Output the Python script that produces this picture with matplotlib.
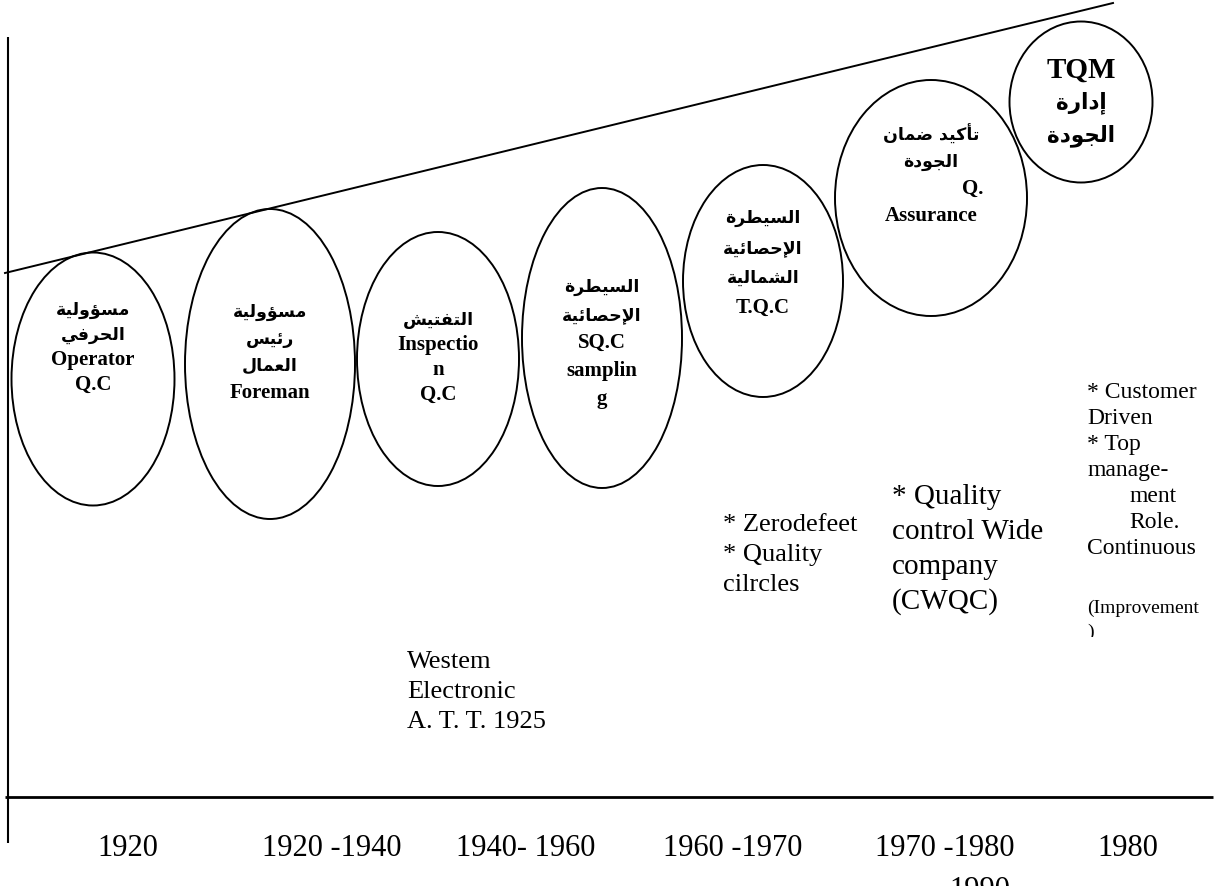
import matplotlib
matplotlib.use('Agg')
import matplotlib.pyplot as plt
from matplotlib.patches import Ellipse
from matplotlib.transforms import Bbox

# --- dane: etapy rozwoju jakości (współrzędne w pikselach rysunku) ---
stage_x = [93, 270, 438, 602, 763, 931, 1081]
stage_y = [379, 364, 359, 338, 281, 198, 102]
stage_w = [163, 170, 162, 160, 160, 192, 143]
stage_h = [253, 310, 254, 300, 232, 236, 161]

stage_text = [
    ['مسؤولية', 'الحرفي', 'Operator', 'Q.C'],
    ['مسؤولية', 'رئيس', 'العمال', 'Foreman'],
    ['التفتيش', 'Inspectio', 'n', 'Q.C'],
    ['السيطرة', 'الإحصائية', 'SQ.C', 'samplin', 'g'],
    ['السيطرة', 'الإحصائية', 'الشمالية', 'T.Q.C'],
    ['تأكيد ضمان', 'الجودة', 'Q.', 'Assurance'],
    ['TQM', 'إدارة', 'الجودة'],
]
stage_text_top = [310, 312, 320, 287, 218, 135, 70]
stage_text_step = [25, 27, 25, 28, 30, 27, 33]

periods = ['1920', '1920 -1940', '1940- 1960', '1960 -1970', '1970 -1980', '1980']
period_x = [128, 332, 526, 733, 945, 1128]

# linie osi i linia trendu
trend_x = [5, 1113]
trend_y = [273, 3]
vaxis_x = [8, 8]
vaxis_y = [37, 843]
haxis_x = [5, 1213]
haxis_y = [797, 797]

notes_western = ['Westem', 'Electronic', 'A. T. T. 1925']
notes_zero = ['* Zerodefeet', '* Quality', 'cilrcles']
notes_cwqc = ['* Quality', 'control Wide', 'company', '(CWQC)']
notes_tqm = ['* Customer', 'Driven', '* Top', 'manage-', 'ment', 'Role.', 'Continuous']
notes_tqm_x = [1087, 1087, 1087, 1087, 1129, 1129, 1087]


# --- proste kształtowanie arabskiego (matplotlib nie robi tego sam) ---
FORMS = {
    'ا': ('\uFE8D', '\uFE8E', None, None),
    'أ': ('\uFE83', '\uFE84', None, None),
    'إ': ('\uFE87', '\uFE88', None, None),
    'آ': ('\uFE81', '\uFE82', None, None),
    'ؤ': ('\uFE85', '\uFE86', None, None),
    'ئ': ('\uFE89', '\uFE8A', '\uFE8B', '\uFE8C'),
    'ب': ('\uFE8F', '\uFE90', '\uFE91', '\uFE92'),
    'ة': ('\uFE93', '\uFE94', None, None),
    'ت': ('\uFE95', '\uFE96', '\uFE97', '\uFE98'),
    'ج': ('\uFE9D', '\uFE9E', '\uFE9F', '\uFEA0'),
    'ح': ('\uFEA1', '\uFEA2', '\uFEA3', '\uFEA4'),
    'د': ('\uFEA9', '\uFEAA', None, None),
    'ر': ('\uFEAD', '\uFEAE', None, None),
    'س': ('\uFEB1', '\uFEB2', '\uFEB3', '\uFEB4'),
    'ش': ('\uFEB5', '\uFEB6', '\uFEB7', '\uFEB8'),
    'ص': ('\uFEB9', '\uFEBA', '\uFEBB', '\uFEBC'),
    'ض': ('\uFEBD', '\uFEBE', '\uFEBF', '\uFEC0'),
    'ط': ('\uFEC1', '\uFEC2', '\uFEC3', '\uFEC4'),
    'ع': ('\uFEC9', '\uFECA', '\uFECB', '\uFECC'),
    'ف': ('\uFED1', '\uFED2', '\uFED3', '\uFED4'),
    'ك': ('\uFED9', '\uFEDA', '\uFEDB', '\uFEDC'),
    'ل': ('\uFEDD', '\uFEDE', '\uFEDF', '\uFEE0'),
    'م': ('\uFEE1', '\uFEE2', '\uFEE3', '\uFEE4'),
    'ن': ('\uFEE5', '\uFEE6', '\uFEE7', '\uFEE8'),
    'و': ('\uFEED', '\uFEEE', None, None),
    'ي': ('\uFEF1', '\uFEF2', '\uFEF3', '\uFEF4'),
}
LAM_ALEF = {'ا': ('\uFEFB', '\uFEFC'), 'أ': ('\uFEF7', '\uFEF8'),
            'إ': ('\uFEF9', '\uFEFA'), 'آ': ('\uFEF5', '\uFEF6')}
DUAL = set('ئبتثجحخسشصضطظعغفقكلمنهي')


def is_arabic(s):
    return any('\u0600' <= c <= '\u06FF' for c in s)


def shape(text):
    out = []
    i = 0
    while i < len(text):
        c = text[i]
        prev = text[i - 1] if i > 0 else ''
        nxt = text[i + 1] if i + 1 < len(text) else ''
        if c not in FORMS:
            out.append(c)
            i += 1
            continue
        join_prev = prev in DUAL
        if c == 'ل' and nxt in LAM_ALEF:
            out.append(LAM_ALEF[nxt][1 if join_prev else 0])
            i += 2
            continue
        join_next = c in DUAL and nxt in FORMS
        iso, fin, ini, med = FORMS[c]
        if join_prev and join_next:
            out.append(med)
        elif join_prev:
            out.append(fin)
        elif join_next:
            out.append(ini)
        else:
            out.append(iso)
        i += 1
    return ''.join(reversed(out))


SERIF = ['Liberation Serif', 'DejaVu Serif']
ARABIC = ['DejaVu Sans']

fig = plt.figure(figsize=(12.15, 8.86), dpi=100)
ax = fig.add_axes([0, 0, 1, 1])
ax.set_xlim(0, 1215)
ax.set_ylim(886, 0)
ax.axis('off')

ax.plot(vaxis_x, vaxis_y, color='black', lw=1.5, solid_capstyle='butt')
ax.plot(haxis_x, haxis_y, color='black', lw=2.0, solid_capstyle='butt')
ax.plot(trend_x, trend_y, color='black', lw=1.4)

for k in range(len(stage_x)):
    ax.add_patch(Ellipse((stage_x[k], stage_y[k]), stage_w[k], stage_h[k],
                         fill=False, ec='black', lw=1.4))
    big = (k == 6)
    for j, line in enumerate(stage_text[k]):
        y = stage_text_top[k] + j * stage_text_step[k]
        if is_arabic(line):
            ax.text(stage_x[k], y, shape(line), ha='center', va='center',
                    family=ARABIC, weight='bold', fontsize=15.5 if big else 12.5)
        elif line == 'Q.':
            ax.text(stage_x[k] + 52, y, line, ha='right', va='center',
                    family=SERIF, weight='bold', fontsize=15)
        else:
            ax.text(stage_x[k], y, line, ha='center', va='center',
                    family=SERIF, weight='bold', fontsize=21 if big else 15)

for j, line in enumerate(notes_western):
    ax.text(407, 662 + j * 30, line, ha='left', va='center', family=SERIF, fontsize=19)

for j, line in enumerate(notes_zero):
    ax.text(723, 525 + j * 30, line, ha='left', va='center', family=SERIF, fontsize=19)

for j, line in enumerate(notes_cwqc):
    ax.text(892, 497 + j * 35, line, ha='left', va='center', family=SERIF, fontsize=21)

for j, line in enumerate(notes_tqm):
    ax.text(notes_tqm_x[j], 392 + j * 26, line, ha='left', va='center',
            family=SERIF, fontsize=17)

ax.text(1087, 608, '(Improvement', ha='left', va='center', family=SERIF, fontsize=14)
paren = ax.text(1087, 632, ')', ha='left', va='center', family=SERIF, fontsize=14)
paren.set_clip_box(Bbox.from_extents(1080, 886 - 637, 1215, 886 - 590))
paren.set_clip_on(True)

for j, label in enumerate(periods):
    ax.text(period_x[j], 849, label, ha='center', va='center', family=SERIF, fontsize=22)
# "1990" wystaje poza dolną krawędź, jak w oryginale
ax.text(period_x[4] + 35, 876, '1990', ha='center', va='top', family=SERIF, fontsize=22)

fig.savefig('out.png', dpi=100, facecolor='white')
